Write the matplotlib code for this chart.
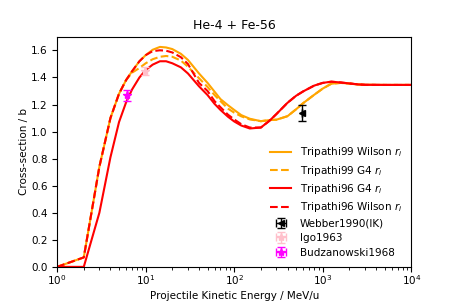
import matplotlib
matplotlib.use("Agg")
import matplotlib.pyplot as plt

# projectile kinetic energy grid, MeV/u
energy = [1, 2, 3, 4, 5, 6, 7, 8.5, 10, 12, 14.5, 17, 20, 25, 30, 40, 50, 60, 70, 85,
          100, 120, 150, 200, 250, 300, 400, 500, 600, 800, 1000, 1250, 1600, 2000,
          2500, 3000, 5000, 10000]

# cross-sections in barn
t99_wilson = [0.0, 0.07, 0.74, 1.10, 1.28, 1.38, 1.445, 1.52, 1.565, 1.605, 1.626, 1.622,
              1.61, 1.575, 1.53, 1.43, 1.36, 1.295, 1.24, 1.195, 1.16, 1.122, 1.095, 1.077,
              1.085, 1.088, 1.114, 1.165, 1.21, 1.272, 1.318, 1.354, 1.36, 1.355, 1.348,
              1.346, 1.345, 1.345]
t99_g4 = [0.0, 0.07, 0.74, 1.10, 1.28, 1.38, 1.435, 1.47, 1.505, 1.535, 1.553, 1.559,
          1.553, 1.525, 1.48, 1.395, 1.33, 1.27, 1.225, 1.17, 1.14, 1.113, 1.09, 1.077,
          1.085, 1.088, 1.114, 1.165, 1.21, 1.272, 1.318, 1.354, 1.36, 1.355, 1.348,
          1.346, 1.345, 1.345]
t96_g4 = [0.0, 0.0, 0.40, 0.81, 1.07, 1.215, 1.31, 1.40, 1.455, 1.495, 1.52, 1.52,
          1.505, 1.475, 1.43, 1.335, 1.27, 1.205, 1.16, 1.11, 1.075, 1.045, 1.023, 1.03,
          1.08, 1.13, 1.213, 1.265, 1.297, 1.34, 1.36, 1.369, 1.363, 1.356, 1.349,
          1.346, 1.345, 1.345]
t96_wilson = [0.0, 0.07, 0.74, 1.10, 1.28, 1.38, 1.445, 1.52, 1.565, 1.595, 1.601, 1.598,
              1.585, 1.55, 1.50, 1.36, 1.30, 1.225, 1.18, 1.125, 1.09, 1.055, 1.03, 1.03,
              1.08, 1.13, 1.213, 1.265, 1.297, 1.34, 1.36, 1.369, 1.363, 1.356, 1.349,
              1.346, 1.345, 1.345]

# measurements: energy, cross-section, error
webber_e, webber_xs, webber_err = [590], [1.14], [0.058]
igo_e, igo_xs, igo_err = [9.8], [1.448], [0.03]
budz_e, budz_xs, budz_err = [6.1], [1.267], [0.04]


def main() -> None:
    plt.rcParams["font.size"] = 7.5
    fig = plt.figure(figsize=(4.57, 3.05), dpi=100)
    ax = fig.add_axes([0.125, 0.125, 0.775, 0.754])

    ax.plot(energy, t99_wilson, color="orange", lw=1.5, label="Tripathi99 Wilson $r_i$")
    ax.plot(energy, t99_g4, color="orange", lw=1.5, ls="--", label="Tripathi99 G4 $r_i$")
    ax.plot(energy, t96_g4, color="red", lw=1.5, label="Tripathi96 G4 $r_i$")
    ax.plot(energy, t96_wilson, color="red", lw=1.5, ls="--", label="Tripathi96 Wilson $r_i$")

    ax.errorbar(webber_e, webber_xs, yerr=webber_err, xerr=[0], fmt="<", color="black",
                ms=5, capsize=3, elinewidth=1, label="Webber1990(IK)")
    ax.errorbar(igo_e, igo_xs, yerr=igo_err, xerr=[0], fmt="*", color="pink",
                ms=6, capsize=3, elinewidth=1, label="Igo1963")
    ax.errorbar(budz_e, budz_xs, yerr=budz_err, xerr=[0], fmt="*", color="magenta",
                ms=6, capsize=3, elinewidth=1, label="Budzanowski1968")

    ax.set_xscale("log")
    ax.set_xlim(1, 1e4)
    ax.set_ylim(0, 1.7)
    ax.tick_params(axis="x", which="major", pad=1.2)
    ax.set_xlabel("Projectile Kinetic Energy / MeV/u", labelpad=3)
    ax.set_ylabel("Cross-section / b", labelpad=1)
    ax.set_title("He-4 + Fe-56", fontsize=9)
    ax.legend(loc="lower right", frameon=False, labelspacing=0.42)

    fig.savefig("out.png", dpi=100)
    plt.close(fig)


if __name__ == "__main__":
    main()
